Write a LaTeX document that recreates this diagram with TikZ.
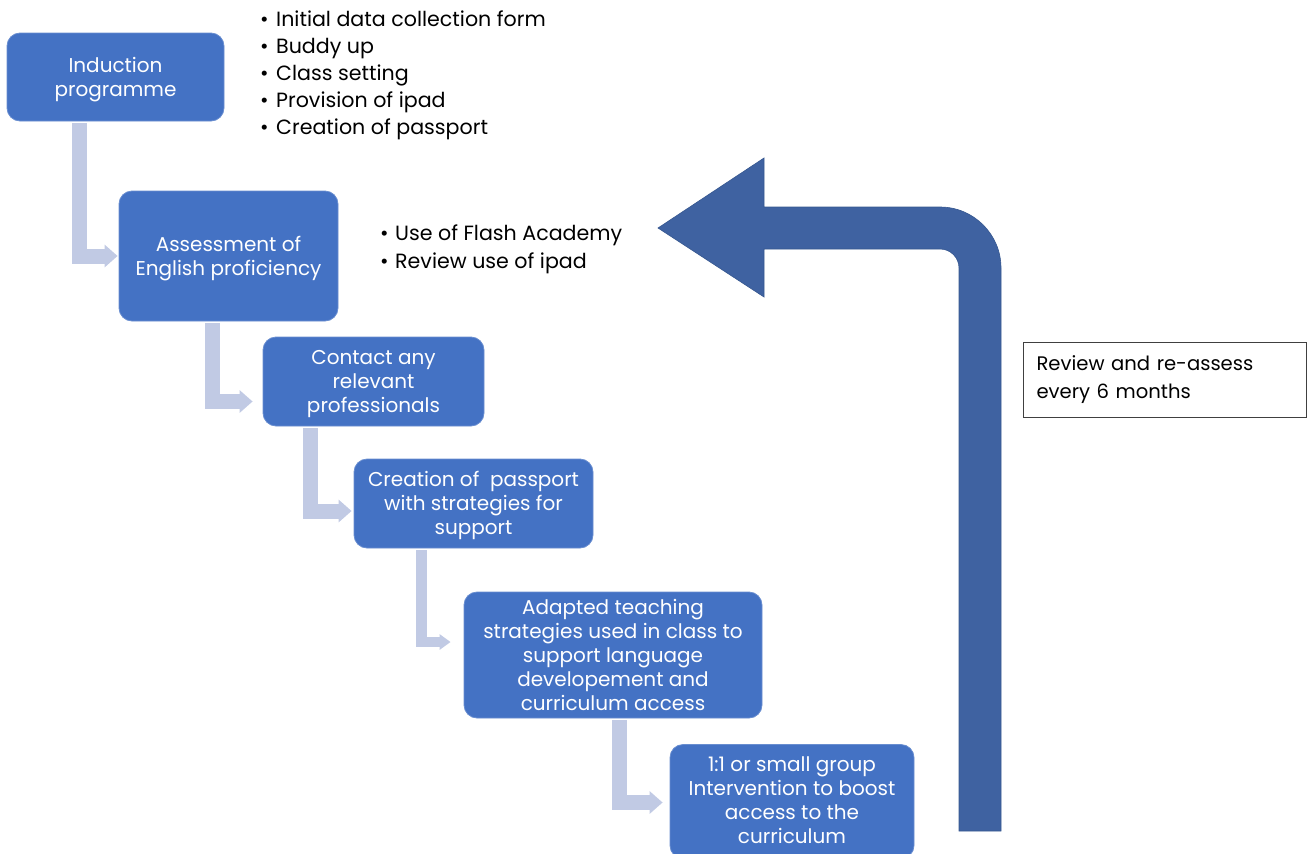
\documentclass[tikz,border=0pt]{standalone}
\usepackage{fontspec}
\setmainfont{Poppins}
\usetikzlibrary{arrows.meta}
\definecolor{boxblue}{HTML}{4472C4}
\definecolor{connblue}{HTML}{C1CAE4}
\definecolor{bigblue}{HTML}{3F62A1}
\definecolor{bigedge}{HTML}{36578F}
\begin{document}
\begin{tikzpicture}[x=1pt,y=1pt,
  stepbox/.style={fill=boxblue, draw=boxblue!80!white, line width=0.8pt, rounded corners=13pt, inner sep=0pt},
  boxtext/.style={text=white, align=center, font=\fontsize{20}{24}\selectfont, inner sep=0pt, yshift=-3pt},
  conn/.style={draw=connblue, line width=15pt, line join=miter, -{Triangle[width=22pt,length=13pt]}},
  thinconn/.style={draw=connblue, line width=10.5pt, line join=miter, -{Triangle[width=15pt,length=11pt]}},
  bullets/.style={anchor=base west, align=left, font=\fontsize{20.6}{27}\selectfont, inner sep=0pt},
  notebox/.style={draw=black!75, line width=1.1pt, anchor=north west, minimum width=283pt, minimum height=75pt, inner xsep=13pt, text width=257pt, align=left, font=\fontsize{19.6}{28}\selectfont}]
\useasboundingbox (0,0) rectangle (1307,-854);
\clip (0,0) rectangle (1307,-854);

% big return arrow
\fill[bigblue, draw=bigedge, line width=0.6pt] (959,-831) -- (959,-268) arc[start angle=0, end angle=90, radius=19]
  -- (764,-249) -- (764,-297) -- (658,-228) -- (764,-158) -- (764,-207) -- (940,-207)
  arc[start angle=90, end angle=0, radius=61] -- (1001,-831) -- cycle;

% step boxes
\node[stepbox, minimum width=217pt, minimum height=88pt, label={[boxtext]center:{Induction\\programme}}] (b1) at (115.5,-77) {};
\node[stepbox, minimum width=219pt, minimum height=130pt, label={[boxtext]center:{Assessment of\\English proficiency}}] (b2) at (228.5,-256) {};
\node[stepbox, minimum width=221pt, minimum height=89pt, label={[boxtext]center:{Contact any\\relevant\\professionals}}] (b3) at (373.5,-381.5) {};
\node[stepbox, minimum width=239pt, minimum height=89pt, label={[boxtext, yshift=1pt]center:{Creation of \ passport\\with strategies for\\support}}] (b4) at (473.5,-503.5) {};
\node[stepbox, minimum width=298pt, minimum height=126pt, label={[boxtext, yshift=3pt]center:{Adapted teaching\\strategies used in class to\\support language\\developement and\\curriculum access}}] (b5) at (613,-655) {};
\node[stepbox, minimum width=244pt, minimum height=114pt, label={[boxtext, yshift=4pt]center:{1:1 or small group\\Intervention to boost\\access to the\\curriculum}}] (b6) at (792,-801.5) {};

% connectors
\draw[conn] ([xshift=73pt,yshift=-2pt]b1.south west) |- ([xshift=-1pt]b2.west);
\draw[conn] ([xshift=93.5pt,yshift=-2pt]b2.south west) |- ([xshift=-10pt,yshift=-20pt]b3.west);
\draw[conn] ([xshift=48pt,yshift=-2pt]b3.south west) |- ([xshift=-2pt,yshift=-7.5pt]b4.west);
\draw[thinconn] ([xshift=68pt,yshift=-2pt]b4.south west) |- ([xshift=-13pt,yshift=13pt]b5.west);
\draw[conn] ([xshift=155.5pt,yshift=-2pt]b5.south west) |- ([xshift=-7pt,yshift=-1pt]b6.west);

% bullet lists
\node[bullets] (l1) at (260,-134) {\makebox[16pt][l]{•}Initial data collection form\\
\makebox[16pt][l]{•}Buddy up\\
\makebox[16pt][l]{•}Class setting\\
\makebox[16pt][l]{•}Provision of ipad\\
\makebox[16pt][l]{•}Creation of passport};
\node[bullets, font=\fontsize{20.6}{28}\selectfont] (l2) at (380,-268) {\makebox[15pt][l]{•}Use of Flash Academy\\
\makebox[15pt][l]{•}Review use of ipad};

% note
\node[notebox, yshift=1pt] (note) at (1023,-343) {Review and re-assess\\every 6 months};
\end{tikzpicture}
\end{document}
